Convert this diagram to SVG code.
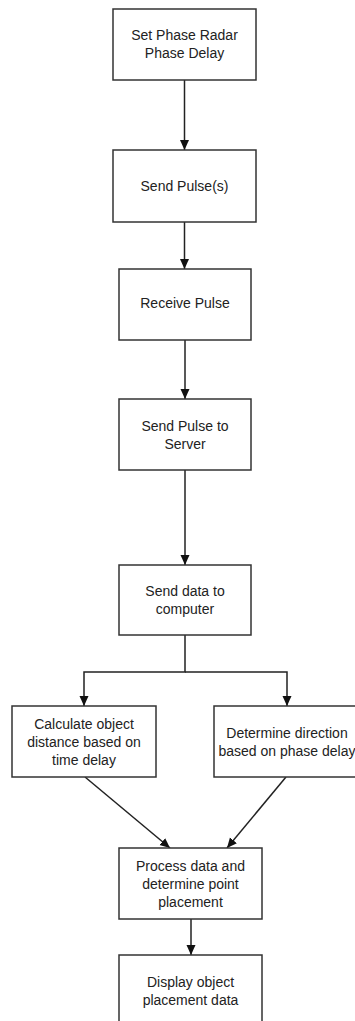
<svg xmlns="http://www.w3.org/2000/svg" width="355" height="1021" viewBox="0 0 355 1021">
<style>
.box{fill:#fff;stroke:#333;stroke-width:1.5}
.lbl{font-family:"Liberation Sans",Arial,sans-serif;font-size:14px;fill:#222;text-anchor:middle}
.edge{fill:none;stroke:#222;stroke-width:1.5}
</style>
<defs>
<marker id="arr" viewBox="0 0 10 10" refX="10" refY="5" markerWidth="10" markerHeight="10" markerUnits="userSpaceOnUse" orient="auto">
<path d="M0,0.5 L10,5 L0,9.5 z" fill="#111"/>
</marker>
</defs>
<rect width="355" height="1021" fill="#fff"/>
<g id="connectors">
<path class="edge" d="M184.5,80 V150" marker-end="url(#arr)"/>
<path class="edge" d="M184.5,222 V269" marker-end="url(#arr)"/>
<path class="edge" d="M185,340 V399" marker-end="url(#arr)"/>
<path class="edge" d="M185,470 V565" marker-end="url(#arr)"/>
<path class="edge" d="M185,635 V672 H84 V706" marker-end="url(#arr)"/>
<path class="edge" d="M185,672 H287 V706" marker-end="url(#arr)"/>
<path class="edge" d="M85,777 L170,848" marker-end="url(#arr)"/>
<path class="edge" d="M286,777 L227,848" marker-end="url(#arr)"/>
<path class="edge" d="M191,919 V955" marker-end="url(#arr)"/>
</g>
<g id="n1"><rect class="box" x="113" y="9" width="143" height="71"/><text class="lbl" x="184.5" y="40">Set Phase Radar</text><text class="lbl" x="184.5" y="58">Phase Delay</text></g>
<g id="n2"><rect class="box" x="113" y="150" width="143" height="72"/><text class="lbl" x="184.5" y="191">Send Pulse(s)</text></g>
<g id="n3"><rect class="box" x="119" y="269" width="132" height="71"/><text class="lbl" x="185" y="308">Receive Pulse</text></g>
<g id="n4"><rect class="box" x="119" y="399" width="132" height="71"/><text class="lbl" x="185" y="431">Send Pulse to</text><text class="lbl" x="185" y="449">Server</text></g>
<g id="n5"><rect class="box" x="119" y="565" width="132" height="70"/><text class="lbl" x="185" y="596">Send data to</text><text class="lbl" x="185" y="614">computer</text></g>
<g id="n6"><rect class="box" x="12" y="706" width="144" height="71"/><text class="lbl" x="84" y="729">Calculate object</text><text class="lbl" x="84" y="747">distance based on</text><text class="lbl" x="84" y="765">time delay</text></g>
<g id="n7"><rect class="box" x="214" y="706" width="146" height="71"/><text class="lbl" x="287" y="738">Determine direction</text><text class="lbl" x="287" y="756">based on phase delay</text></g>
<g id="n8"><rect class="box" x="119" y="848" width="143" height="71"/><text class="lbl" x="190.5" y="871">Process data and</text><text class="lbl" x="190.5" y="889">determine point</text><text class="lbl" x="190.5" y="907">placement</text></g>
<g id="n9"><rect class="box" x="119" y="955" width="143" height="71"/><text class="lbl" x="190.5" y="987">Display object</text><text class="lbl" x="190.5" y="1005">placement data</text></g>
</svg>
